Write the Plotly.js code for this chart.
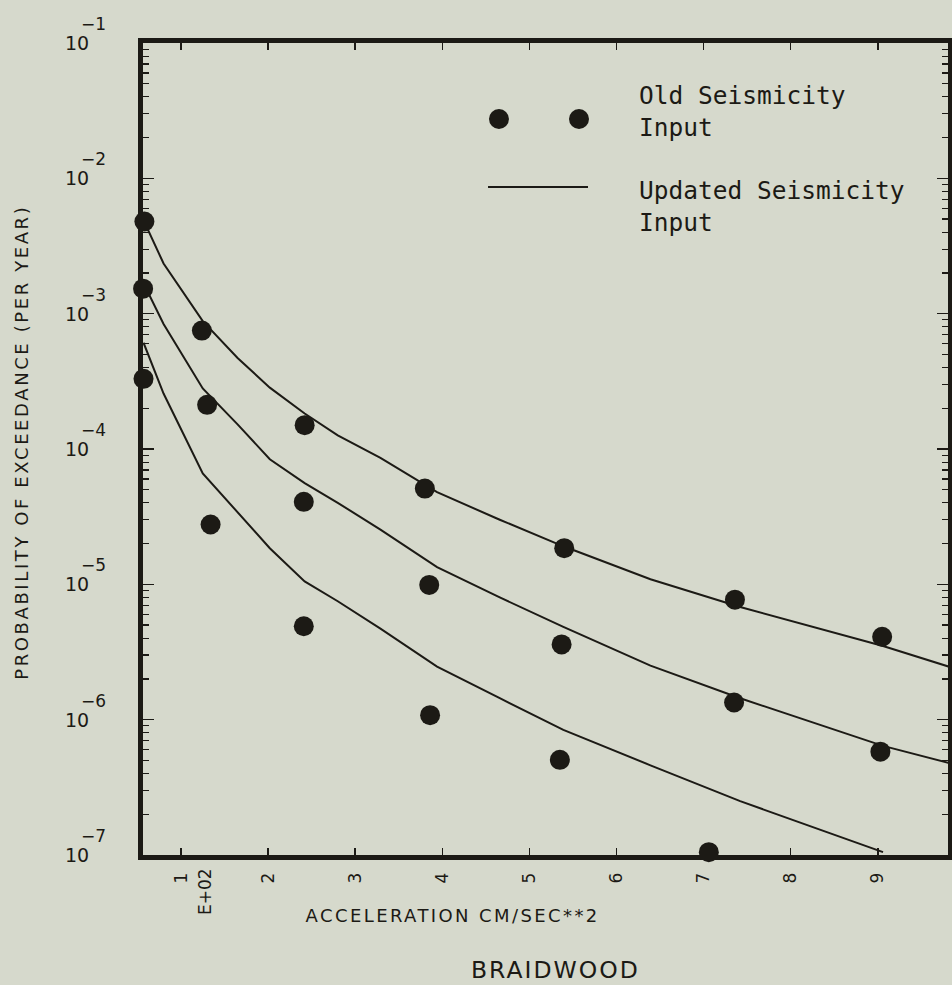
<!DOCTYPE html>
<html>
<head>
<meta charset="utf-8">
<script src="https://cdn.plot.ly/plotly-3.0.1.min.js"></script>
<style>
html,body{margin:0;padding:0;background:#d6d9cc;}
#chart{width:952px;height:985px;}
.annotation[data-index="0"] .annotation-text{letter-spacing:2.4px;}
.annotation[data-index="1"] .annotation-text{letter-spacing:2.6px;}
.annotation[data-index="2"] .annotation-text{letter-spacing:2px;}
</style>
</head>
<body>
<div id="chart"></div>
<script>
// Acceleration (E+02 cm/sec**2) and annual probability of exceedance
// Old seismicity input (dots), three groups
const oldX_upper = [0.58, 1.24, 2.42, 3.80, 5.40, 7.36, 9.05];
const oldY_upper = [4.8e-3, 7.5e-4, 1.5e-4, 5.1e-5, 1.85e-5, 7.7e-6, 4.1e-6];
const oldX_mid   = [0.565, 1.30, 2.41, 3.85, 5.37, 7.35, 9.03];
const oldY_mid   = [1.53e-3, 2.12e-4, 4.07e-5, 9.9e-6, 3.6e-6, 1.34e-6, 5.8e-7];
const oldX_lower = [0.57, 1.34, 2.41, 3.86, 5.35, 7.06];
const oldY_lower = [3.3e-4, 2.77e-5, 4.9e-6, 1.08e-6, 5.05e-7, 1.05e-7];

// Updated seismicity input (lines)
const updX = [0.57, 0.80, 1.25, 1.65, 2.02, 2.42, 2.80, 3.29, 3.94, 4.66, 5.39, 6.39, 7.42, 9.06, 9.81];
const updY_upper = [4.9e-3, 2.35e-3, 8.8e-4, 4.7e-4, 2.84e-4, 1.83e-4, 1.26e-4, 8.6e-5, 4.8e-5, 3.0e-5, 1.91e-5, 1.09e-5, 6.8e-6, 3.5e-6, 2.47e-6];
const updY_mid   = [1.68e-3, 8.4e-4, 2.8e-4, 1.52e-4, 8.4e-5, 5.6e-5, 4.0e-5, 2.54e-5, 1.34e-5, 8.0e-6, 4.85e-6, 2.51e-6, 1.44e-6, 6.4e-7, 4.8e-7];
const updX_lower = [0.57, 0.80, 1.25, 1.65, 2.02, 2.42, 2.80, 3.29, 3.94, 4.66, 5.39, 6.39, 7.42, 9.06];
const updY_lower = [6.1e-4, 2.57e-4, 6.6e-5, 3.4e-5, 1.85e-5, 1.05e-5, 7.5e-6, 4.7e-6, 2.47e-6, 1.44e-6, 8.4e-7, 4.6e-7, 2.5e-7, 1.05e-7];

const xTickVals = [1, 2, 3, 4, 5, 6, 7, 8, 9];
const xTickText = ['1', '2', '3', '4', '5', '6', '7', '8', '9'];
const yExponents = [-7, -6, -5, -4, -3, -2, -1];
const yTickBase = '10';

const ink = '#1c1a15';
const bg = '#d6d9cc';

const yTickVals = yExponents.map(e => Math.pow(10, e));
const yMinor = [];
yExponents.slice(0, -1).forEach(e => { for (let k = 2; k <= 9; k++) yMinor.push(k * Math.pow(10, e)); });

function dots(x, y) {
  return {x: x, y: y, type: 'scatter', mode: 'markers', cliponaxis: false,
    marker: {size: 20, color: ink}, showlegend: false, hoverinfo: 'skip'};
}
function line(x, y) {
  return {x: x, y: y, type: 'scatter', mode: 'lines',
    line: {color: ink, width: 2}, showlegend: false, hoverinfo: 'skip'};
}

const data = [
  line(updX, updY_upper), line(updX, updY_mid), line(updX_lower, updY_lower),
  dots(oldX_upper, oldY_upper), dots(oldX_mid, oldY_mid), dots(oldX_lower, oldY_lower)
];

const tickFont = {family: 'DejaVu Sans', size: 17, color: ink};

const annotations = [
  {text: 'ACCELERATION CM/SEC**2', xref: 'paper', yref: 'paper', x: 0.385, y: -0.0739,
   xanchor: 'center', yanchor: 'middle', showarrow: false,
   font: {family: 'DejaVu Sans', size: 18, color: ink}},
  {text: 'PROBABILITY OF EXCEEDANCE (PER YEAR)', xref: 'paper', yref: 'paper', x: -0.1516, y: 0.5086,
   xanchor: 'center', yanchor: 'middle', showarrow: false, textangle: -90,
   font: {family: 'DejaVu Sans', size: 18, color: ink}},
  {text: 'BRAIDWOOD', xref: 'paper', yref: 'paper', x: 0.513, y: -0.1416,
   xanchor: 'center', yanchor: 'middle', showarrow: false,
   font: {family: 'DejaVu Sans', size: 23.5, color: ink}},
  {text: 'E+02', xref: 'paper', yref: 'paper', x: 0.077, y: -0.0443,
   xanchor: 'center', yanchor: 'middle', showarrow: false, textangle: -90,
   font: {family: 'DejaVu Sans', size: 17, color: ink}},
  {text: 'Old Seismicity<br>Input', xref: 'paper', yref: 'paper', x: 0.6137, y: 0.916,
   xanchor: 'left', yanchor: 'middle', align: 'left', showarrow: false,
   font: {family: 'DejaVu Sans Mono', size: 24.5, color: ink}},
  {text: 'Updated Seismicity<br>Input', xref: 'paper', yref: 'paper', x: 0.6137, y: 0.799,
   xanchor: 'left', yanchor: 'middle', align: 'left', showarrow: false,
   font: {family: 'DejaVu Sans Mono', size: 24.5, color: ink}}
];
// y tick labels: "10" with a raised exponent, as in the original typewriter style
yExponents.forEach(e => {
  annotations.push({text: yTickBase, xref: 'paper', yref: 'y', x: -0.0646, y: e,
    xanchor: 'right', yanchor: 'middle', showarrow: false,
    font: {family: 'DejaVu Sans', size: 19, color: ink}});
  annotations.push({text: '\u2212' + Math.abs(e), xref: 'paper', yref: 'y', x: -0.0795, y: e, yshift: 19,
    xanchor: 'left', yanchor: 'middle', showarrow: false,
    font: {family: 'DejaVu Sans', size: 17, color: ink}});
});

const layout = {
  width: 952, height: 985,
  margin: {l: 143, r: 4, t: 43, b: 130},
  paper_bgcolor: bg, plot_bgcolor: bg,
  showlegend: false,
  xaxis: {
    range: [0.564, 9.806], showgrid: false, zeroline: false,
    showline: true, linewidth: 5, linecolor: ink, mirror: 'ticks',
    ticks: 'inside', ticklen: 7, tickwidth: 1.5, tickcolor: ink,
    tickmode: 'array', tickvals: xTickVals, ticktext: xTickText,
    tickangle: -90, tickfont: tickFont, ticklabelstandoff: 6
  },
  yaxis: {
    type: 'log', range: [-7, -1], showgrid: false, zeroline: false,
    showline: true, linewidth: 5, linecolor: ink, mirror: 'ticks',
    ticks: 'inside', ticklen: 11, tickwidth: 1.5, tickcolor: ink,
    tickmode: 'array', tickvals: yTickVals, showticklabels: false,
    minor: {tickmode: 'array', tickvals: yMinor, ticks: 'inside', ticklen: 6, tickwidth: 1.2, tickcolor: ink, showgrid: false}
  },
  annotations: annotations,
  shapes: [
    {type: 'circle', xref: 'paper', yref: 'paper', xsizemode: 'pixel', ysizemode: 'pixel',
     xanchor: 0.4422, yanchor: 0.9064, x0: -10, x1: 10, y0: -10, y1: 10,
     fillcolor: ink, line: {width: 0}},
    {type: 'circle', xref: 'paper', yref: 'paper', xsizemode: 'pixel', ysizemode: 'pixel',
     xanchor: 0.5416, yanchor: 0.9064, x0: -10, x1: 10, y0: -10, y1: 10,
     fillcolor: ink, line: {width: 0}},
    {type: 'line', xref: 'paper', yref: 'paper', x0: 0.4286, x1: 0.5528, y0: 0.8227, y1: 0.8227,
     line: {color: ink, width: 2}}
  ]
};

Plotly.newPlot('chart', data, layout, {displayModeBar: false, staticPlot: true});
</script>
</body>
</html>
